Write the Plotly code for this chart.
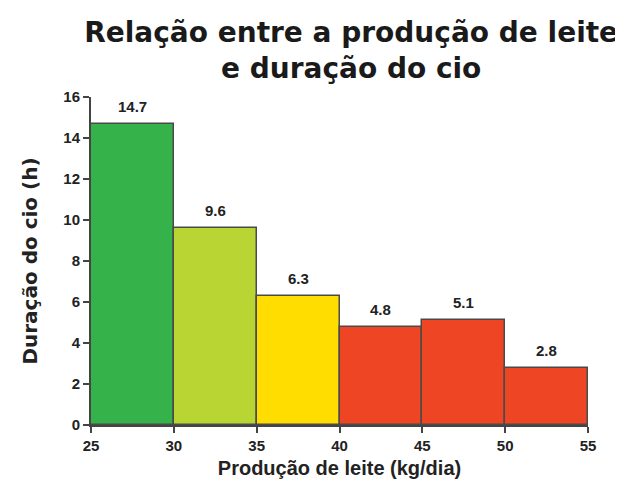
import plotly.graph_objects as go

bin_start = [25, 30, 35, 40, 45, 50]
bin_width = [5, 5, 5, 5, 5, 5]
duracao = [14.7, 9.6, 6.3, 4.8, 5.1, 2.8]
labels = ["14.7", "9.6", "6.3", "4.8", "5.1", "2.8"]
colors = ["#35b24a", "#b9d534", "#ffdd00", "#ee4524", "#ee4524", "#ee4524"]
x_ticks = [25, 30, 35, 40, 45, 50, 55]
y_ticks = [0, 2, 4, 6, 8, 10, 12, 14, 16]

centers = [s + w / 2 for s, w in zip(bin_start, bin_width)]

lib = "Liberation Sans, Arial, sans-serif"
dej = "DejaVu Sans, sans-serif"

fig = go.Figure(go.Bar(
    x=centers,
    y=duracao,
    width=bin_width,
    marker=dict(color=colors, line=dict(color="#4a4a4a", width=1.5)),
    hoverinfo="skip",
))

for xc, yv, lab in zip(centers, duracao, labels):
    fig.add_annotation(
        x=xc, y=yv, text=f"<b>{lab}</b>", showarrow=False,
        xanchor="center", yanchor="bottom", yshift=7,
        font=dict(family=lib, size=15, color="#222222"),
    )

fig.update_layout(
    width=615, height=479,
    paper_bgcolor="white", plot_bgcolor="white",
    margin=dict(l=83, r=35, t=89, b=62),
    showlegend=False,
    title=dict(
        text="<b>Relação entre a produção de leite<br>e duração do cio</b>",
        x=0.558, xanchor="center", y=0.929, yanchor="top",
        font=dict(family=dej, size=28, color="#1a1a1a"),
    ),
    bargap=0,
)

fig.update_xaxes(
    range=[25, 55], tickmode="array", tickvals=x_ticks,
    ticktext=[f"<b>{v}</b>" for v in x_ticks],
    showline=True, linecolor="#444444", linewidth=2,
    ticks="outside", ticklen=6, tickwidth=2, tickcolor="#444444",
    showgrid=False, zeroline=False, automargin=False,
    tickfont=dict(family=lib, size=15, color="#222222"),
    title=dict(text="<b>Produção de leite (kg/dia)</b>", standoff=8,
               font=dict(family=lib, size=20, color="#222222")),
)
fig.update_yaxes(
    range=[0, 16], tickmode="array", tickvals=y_ticks,
    ticktext=[f"<b>{v}</b>" for v in y_ticks],
    showline=True, linecolor="#444444", linewidth=2,
    ticks="outside", ticklen=6, tickwidth=2, tickcolor="#444444",
    showgrid=False, zeroline=False, automargin=False,
    tickfont=dict(family=lib, size=15, color="#222222"),
    title=dict(text="<b>Duração do cio (h)</b>", standoff=20,
               font=dict(family=dej, size=20, color="#222222")),
)

fig.write_html("out.html")
